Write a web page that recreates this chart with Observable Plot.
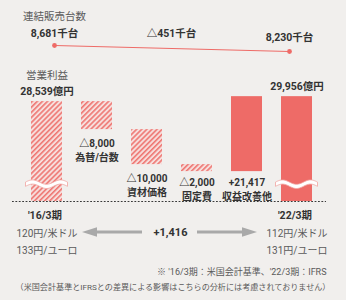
<!DOCTYPE html>
<html><head><meta charset="utf-8">
<script src="https://cdn.jsdelivr.net/npm/d3@7"></script>
<script src="https://cdn.jsdelivr.net/npm/@observablehq/plot@0.6"></script>
<style>
html,body{margin:0;padding:0;background:#f1efed;}
#chart{position:relative;width:346px;height:300px;background:#f1efed;overflow:hidden;}
#chart svg{position:absolute;left:0;top:0;}
</style></head><body><div id="chart"></div>
<script>
// ---- data ----
const categories = ["'16/3期", "為替/台数", "資材価格", "固定費", "収益改善他", "'22/3期"];
const amounts = [28539, -8000, -10000, -2000, 21417, 29956];
const amountLabels = ["28,539億円", "△8,000", "△10,000", "△2,000", "+21,417", "29,956億円"];
const salesPeriods = ["'16/3期", "'22/3期"];
const salesValues = [8681, 8230];
const salesLabels = ["8,681千台", "8,230千台"];
const salesChange = "△451千台";
const profitChange = "+1,416";
const usdRates = ["120円/米ドル", "112円/米ドル"];
const eurRates = ["133円/ユーロ", "131円/ユーロ"];
const titles = ["連結販売台数", "営業利益"];
const notes = ["※ '16/3期：米国会計基準、'22/3期：IFRS",
  "（米国会計基準とIFRSとの差異による影響はこちらの分析には考慮されておりません）"];

// ---- derived ----
let run = 0;
const last = categories.length - 1;
const rows = categories.map((c, i) => {
  let y1, y2;
  if (i === 0 || i === last) { y1 = 0; y2 = amounts[i]; run = amounts[i]; }
  else { y1 = run; run += amounts[i]; y2 = run; }
  return {cat: c, y1, y2, lo: Math.min(y1, y2), hi: Math.max(y1, y2), label: amountLabels[i], i};
});
const totals = [rows[0], rows[last]].map((r, k) => ({...r, usd: usdRates[k], eur: eurRates[k]}));
const sales = salesPeriods.map((p, i) => ({cat: p, v: salesValues[i], label: salesLabels[i]}));

const FONT = "Roboto, 'Noto Sans CJK JP', 'Noto Sans', sans-serif";
const RED = "#ee6b67";
const DARK = "#333333";
const GREY = "#5a5a5a";

const xOpts = {domain: categories, range: [30, 312], paddingInner: 0.3825, paddingOuter: 0, axis: null};
const base = {width: 346, height: 300, marginTop: 0, marginBottom: 0, marginLeft: 12, marginRight: 20,
  style: {background: "transparent", fontFamily: FONT, overflow: "visible"}};

const tOpts = {fontFamily: FONT, fill: DARK, fontWeight: "bold", fontSize: 10.5};
const twoLine = d => d.label + "\n" + d.cat;

// ---- profit plot ----
const profit = Plot.plot({
  ...base,
  x: xOpts,
  y: {domain: [0, 30000], range: [201, 96], axis: null},
  marks: [
    Plot.barY(rows.filter(d => d.i <= 3), {x: "cat", y1: "y1", y2: "y2", fill: "url(#hatch)"}),
    Plot.barY(rows.filter(d => d.i >= 4), {x: "cat", y1: "y1", y2: "y2", fill: RED}),
    Plot.ruleY([0], {stroke: "#3a3a3a", strokeWidth: 1.2, strokeDasharray: "1.8,1.6"}),
    // totals on top
    Plot.text(totals, {x: "cat", y: "hi", text: "label", dy: -10, ...tOpts}),
    Plot.text([rows[0]], {x: "cat", y: "hi", text: () => titles[1], dy: -26, ...tOpts, fill: GREY, fontWeight: "normal"}),
    // deltas below bars (value + category, two lines)
    Plot.text(rows.filter(d => d.i === 1 || d.i === 2), {x: "cat", y: "lo", text: twoLine, lineHeight: 1.45, dy: 19.5, ...tOpts, fontSize: 10}),
    Plot.text(rows.filter(d => d.i === 3 || d.i === 4), {x: "cat", y: "lo", text: twoLine, lineHeight: 1.45, dy: 16.5, ...tOpts, fontSize: 10}),
    // period labels + rates
    Plot.text(totals, {x: "cat", y: "y1", text: "cat", dy: 14, dx: -2, ...tOpts}),
    Plot.text(totals, {x: "cat", y: "y1", text: "usd", dy: 32, ...tOpts, fill: GREY, fontWeight: "normal", fontSize: 10}),
    Plot.text(totals, {x: "cat", y: "y1", text: "eur", dy: 49, ...tOpts, fill: GREY, fontWeight: "normal", fontSize: 10}),
    Plot.text([profitChange], {text: d => d, y: [0], frameAnchor: "middle", dx: 1, dy: 31, ...tOpts, fontSize: 11}),
    // notes
    Plot.text([notes[0]], {text: d => d, y: [0], frameAnchor: "right", textAnchor: "end", dy: 71, fontFamily: FONT, fill: GREY, fontSize: 9}),
    Plot.text([notes[1]], {text: d => d, y: [0], frameAnchor: "middle", dx: 3.5, dy: 86, fontFamily: FONT, fill: GREY, fontSize: 8.1})
  ]
});

// ---- sales plot ----
const salesPlot = Plot.plot({
  ...base,
  x: xOpts,
  y: {domain: [8230, 8681], range: [51, 45], axis: null},
  marks: [
    Plot.line(sales, {x: "cat", y: "v", stroke: RED, strokeWidth: 1.1}),
    Plot.dot(sales, {x: "cat", y: "v", r: 2.4, fill: RED}),
    Plot.text(sales.slice(0, 1), {x: "cat", y: "v", text: "label", dy: -12, ...tOpts}),
    Plot.text(sales.slice(1), {x: "cat", y: "v", text: "label", dy: -14, ...tOpts}),
    Plot.text(sales.slice(0, 1), {x: "cat", y: "v", text: () => titles[0], dy: -29, ...tOpts, fill: GREY, fontWeight: "normal"}),
    Plot.text([salesChange], {text: d => d, y: [salesValues[0]], frameAnchor: "middle", dx: 2, dy: -12, ...tOpts})
  ]
});

// ---- decorations: hatch pattern, break waves, arrows ----
const ps = d3.select(profit);
const defs = ps.insert("defs", ":first-child");
const pat = defs.append("pattern").attr("id", "hatch").attr("patternUnits", "userSpaceOnUse")
  .attr("width", 3.6).attr("height", 3.6).attr("patternTransform", "rotate(45)");
pat.append("rect").attr("width", 3.6).attr("height", 3.6).attr("fill", "#f7dedc");
pat.append("line").attr("x1", 0.8).attr("y1", 0).attr("x2", 0.8).attr("y2", 3.6)
  .attr("stroke", "#ee7773").attr("stroke-width", 1.6);

const xs = profit.scale("x"), ys = profit.scale("y");
const bw = xs.bandwidth;
const deco = ps.append("g");
function wave(cx, cy) {
  const half = 21, amp = 2.2, thick = 4.2, n = 40, top = [], bot = [];
  for (let k = 0; k <= n; k++) {
    const t = k / n, x = cx - half + 2 * half * t, y = cy - amp * Math.sin(t * Math.PI * 3);
    top.push([x, y - thick / 2]); bot.push([x, y + thick / 2]);
  }
  const line = d3.line();
  deco.append("path").attr("d", line(top.concat(bot.reverse())) + "Z")
    .attr("fill", "#ffffff").attr("stroke", "#f0a3a0").attr("stroke-width", 0.8);
}
const breakAt = 4800;
[categories[0], categories[last]].forEach(c => wave(xs.apply(c) + bw / 2, ys.apply(breakAt)));

const mid = 12 + (346 - 32) / 2 + 2;
const ay = ys.apply(0) + 31;
function arrow(x0, x1) {
  const dir = Math.sign(x1 - x0), head = 15, hh = 4.8;
  deco.append("line").attr("x1", x0).attr("y1", ay).attr("x2", x1 - dir * head).attr("y2", ay)
    .attr("stroke", "#a9a9a9").attr("stroke-width", 3.2);
  deco.append("path").attr("d", `M${x1},${ay}L${x1 - dir * head},${ay - hh}L${x1 - dir * head},${ay + hh}Z`)
    .attr("fill", "#a9a9a9");
}
arrow(mid - 29, mid - 89);
arrow(mid + 26, mid + 86);

const el = document.getElementById("chart");
el.appendChild(profit);
el.appendChild(salesPlot);
</script></body></html>
